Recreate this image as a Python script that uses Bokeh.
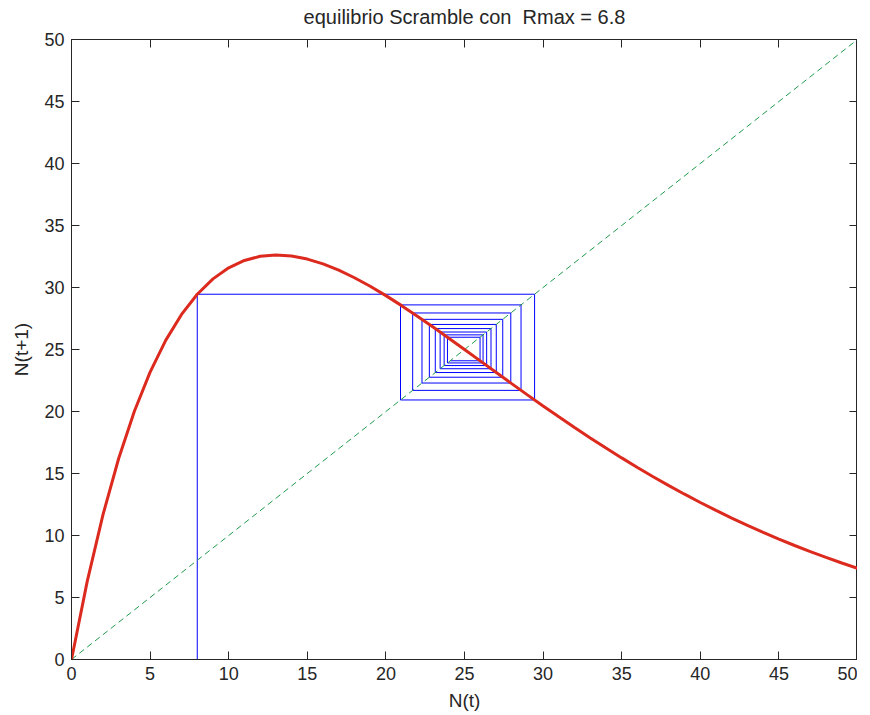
from bokeh.plotting import figure
from bokeh.models import LinearAxis, Range1d, FixedTicker, Title
from bokeh.embed import file_html
from bokeh.resources import INLINE

# Ricker map curve N(t+1) read at integer N(t)
n_t = list(range(0, 51))
n_t1 = [0.0, 6.298, 11.666, 16.208, 20.015, 23.173, 25.755, 27.829, 29.458, 30.694,
        31.587, 32.181, 32.515, 32.625, 32.541, 32.292, 31.902, 31.394, 30.787, 30.099,
        29.345, 28.538, 27.690, 26.812, 25.913, 25.000, 24.081, 23.161, 22.246, 21.340,
        20.447, 19.569, 18.709, 17.869, 17.052, 16.258, 15.488, 14.743, 14.024, 13.331,
        12.664, 12.022, 11.406, 10.816, 10.250, 9.710, 9.193, 8.699, 8.229, 7.780, 7.353]

# successive populations of the cobweb, starting at N0 = 8
iterates = [8.0, 29.458, 20.929, 28.597, 21.704, 27.945, 22.296, 27.433, 22.764, 27.021,
            23.142, 26.686, 23.450, 26.409, 23.705, 26.180, 23.916, 25.989, 24.091]

diag = [0, 50]
ticks = [0, 5, 10, 15, 20, 25, 30, 35, 40, 45, 50]

# cobweb path built from iterates
cx = [iterates[0]]
cy = [0.0]
for k in range(len(iterates) - 1):
    cx += [iterates[k], iterates[k + 1]]
    cy += [iterates[k + 1], iterates[k + 1]]

TXT = "#262626"
FONT = "Liberation Sans"

p = figure(output_backend="svg", toolbar_location=None,
           frame_width=786, frame_height=620,
           x_range=Range1d(0, 50), y_range=Range1d(0, 50),
           min_border_left=0, min_border_right=0, min_border_top=0, min_border_bottom=0,
           x_axis_label="N(t)", y_axis_label="N(t+1)")
p.margin = (-8, 0, 0, 8)
p.title = Title(text="equilibrio Scramble con \u00a0Rmax = 6.8", align="center",
                text_font=FONT, text_font_size="20px", text_font_style="normal",
                text_color=TXT, offset=0, standoff=23)
p.grid.visible = False
p.outline_line_color = TXT
p.outline_line_width = 1
p.background_fill_color = "white"
p.border_fill_color = "white"

for ax in p.xaxis + p.yaxis:
    ax.ticker = FixedTicker(ticks=ticks)
    ax.minor_tick_line_color = None
    ax.major_tick_in = 8
    ax.major_tick_out = 0
    ax.axis_line_color = TXT
    ax.major_tick_line_color = TXT
    ax.major_label_text_font = FONT
    ax.major_label_text_font_size = "18px"
    ax.major_label_text_color = TXT
    ax.axis_label_text_font = FONT
    ax.axis_label_text_font_size = "19px"
    ax.axis_label_text_font_style = "normal"
    ax.axis_label_text_color = TXT

p.xaxis.major_label_standoff = 7
p.xaxis.axis_label_standoff = 7
p.yaxis.major_label_standoff = 7
p.yaxis.axis_label_standoff = 9

for loc in ("above", "right"):
    ax = LinearAxis(ticker=FixedTicker(ticks=ticks))
    ax.major_label_text_color = None
    ax.major_label_standoff = 0
    ax.minor_tick_line_color = None
    ax.major_tick_in = 8
    ax.major_tick_out = 0
    ax.axis_line_color = TXT
    ax.major_tick_line_color = TXT
    p.add_layout(ax, loc)

p.line(cx, cy, line_color="#0000ff", line_width=1)
p.line(diag, diag, line_color="#1f9a4c", line_width=1, line_dash="6 4")
p.line(n_t, n_t1, line_color="#dc2a1e", line_width=3)

open("out.html", "w").write(file_html(p, INLINE))
